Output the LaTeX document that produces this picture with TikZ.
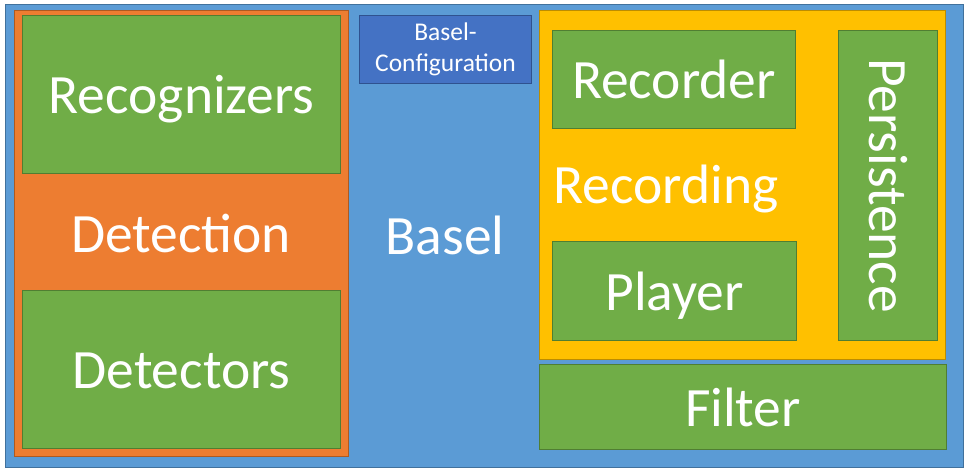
\documentclass[tikz,border=0pt]{standalone}
\usepackage{fontspec}
\setmainfont{Carlito}
\definecolor{cblue}{HTML}{5B9BD5}
\definecolor{cblueb}{HTML}{41719C}
\definecolor{corange}{HTML}{ED7D31}
\definecolor{coranged}{HTML}{AE5A21}
\definecolor{cgreen}{HTML}{70AD47}
\definecolor{cgreend}{HTML}{507E32}
\definecolor{cyellow}{HTML}{FFC000}
\definecolor{cyellowd}{HTML}{BC8C00}
\definecolor{cdblue}{HTML}{4472C4}
\definecolor{cdblued}{HTML}{2F528F}
\begin{document}
\begin{tikzpicture}[x=1pt,y=-1pt,
  box/.style={draw, line width=1pt, inner sep=0pt, anchor=north west, text=white},
  bigfont/.style={font=\fontsize{55.5}{60}\selectfont, text height=53pt, text depth=15pt},
  gbox/.style={box, fill=cgreen, draw=cgreend, bigfont},
  big/.style={text=white, inner sep=0pt, bigfont},
]
\useasboundingbox (0,0) rectangle (970,474);
\node[box, fill=cblue, draw=cblueb, minimum width=958pt, minimum height=463pt] (outer) at (5,4) {};
\node[box, fill=corange, draw=coranged, minimum width=334pt, minimum height=446pt] (det) at (14,10) {};
\node[gbox, minimum width=318pt, minimum height=158pt] (recog) at (22,15) {Recognizers};
\node[gbox, minimum width=318pt, minimum height=158pt] (detect) at (22,290) {Detectors};
\node[big] (detlbl) at (181,233) {Detection};
\node[box, fill=cdblue, draw=cdblued, minimum width=172pt, minimum height=68pt,
  align=center, font=\fontsize{25.5}{31}\selectfont] (conf) at (359,15) {Basel-\\Configuration};
\node[big] (basel) at (445,235) {Basel};
\node[box, fill=cyellow, draw=cyellowd, minimum width=406pt, minimum height=349pt] (recbox) at (539,10) {};
\node[gbox, minimum width=243pt, minimum height=98pt] (recorder) at (552,30) {Recorder};
\node[gbox, minimum width=244pt, minimum height=99pt] (player) at (552,241) {Player};
\node[gbox, minimum width=99pt, minimum height=310pt] (pers) at (838,30) {};
\node[big, rotate=-90] (perslbl) at (pers.center) {Persistence};
\node[big] (reclbl) at (666,184) {Recording};
\node[gbox, minimum width=407pt, minimum height=85pt] (filter) at (539,364) {Filter};
\end{tikzpicture}
\end{document}
